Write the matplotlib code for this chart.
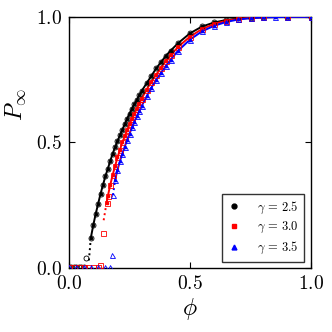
import matplotlib
matplotlib.use("Agg")
import matplotlib.pyplot as plt

plt.rcParams['mathtext.fontset'] = 'cm'
plt.rcParams['font.family'] = ['DejaVu Serif']

# gamma = 2.5 (black)
phi_a = [0.09, 0.10, 0.11, 0.12, 0.13, 0.14, 0.15, 0.16, 0.17, 0.18, 0.19, 0.20,
         0.21, 0.22, 0.23, 0.24, 0.25, 0.26, 0.27, 0.28, 0.29, 0.30, 0.32, 0.34,
         0.36, 0.38, 0.40, 0.42, 0.45, 0.50, 0.55, 0.60, 0.65, 0.70, 0.75, 0.80,
         0.90, 1.00]
P_a = [0.12, 0.17, 0.215, 0.255, 0.295, 0.33, 0.365, 0.395, 0.425, 0.455, 0.48, 0.505,
       0.528, 0.55, 0.573, 0.595, 0.615, 0.635, 0.653, 0.67, 0.688, 0.705, 0.735, 0.765,
       0.795, 0.82, 0.845, 0.866, 0.895, 0.935, 0.962, 0.978, 0.988, 0.994, 0.997, 0.999,
       1.0, 1.0]
# gamma = 3.0 (red)
phi_b = [0.155, 0.16, 0.17, 0.18, 0.19, 0.20, 0.21, 0.22, 0.23, 0.24, 0.25, 0.26,
         0.27, 0.28, 0.29, 0.30, 0.32, 0.34, 0.36, 0.38, 0.40, 0.42, 0.45, 0.50,
         0.55, 0.60, 0.65, 0.70, 0.75, 0.80, 0.90, 1.00]
P_b = [0.26, 0.285, 0.33, 0.37, 0.405, 0.44, 0.47, 0.50, 0.525, 0.55, 0.573, 0.595,
       0.615, 0.635, 0.655, 0.675, 0.71, 0.742, 0.77, 0.798, 0.825, 0.848, 0.88, 0.922,
       0.952, 0.972, 0.985, 0.992, 0.996, 0.999, 1.0, 1.0]
# gamma = 3.5 (blue)
phi_c = [0.19, 0.20, 0.21, 0.22, 0.23, 0.24, 0.25, 0.26, 0.27, 0.28, 0.29, 0.30,
         0.32, 0.34, 0.36, 0.38, 0.40, 0.42, 0.45, 0.50, 0.55, 0.60, 0.65, 0.70,
         0.75, 0.80, 0.85, 0.90, 1.00]
P_c = [0.35, 0.39, 0.425, 0.455, 0.483, 0.51, 0.535, 0.56, 0.583, 0.605, 0.625, 0.645,
       0.683, 0.718, 0.75, 0.778, 0.805, 0.83, 0.865, 0.91, 0.943, 0.965, 0.98, 0.99,
       0.995, 0.998, 0.999, 1.0, 1.0]

# dotted segments near threshold
dot_phi_a = [0.082, 0.086, 0.09]
dot_P_a = [0.03, 0.075, 0.12]
dot_phi_b = [0.143, 0.149, 0.155]
dot_P_b = [0.19, 0.225, 0.26]
dot_phi_c = [0.181, 0.186, 0.19]
dot_P_c = [0.29, 0.32, 0.35]

# open simulation markers below / at threshold
sim_phi_a = [0.0, 0.01, 0.02, 0.03, 0.04, 0.05, 0.06, 0.07]
sim_P_a = [0.002, 0.002, 0.002, 0.002, 0.003, 0.003, 0.005, 0.04]
sim_phi_b = [0.0, 0.02, 0.04, 0.06, 0.08, 0.10, 0.12, 0.128, 0.14]
sim_P_b = [0.002, 0.002, 0.002, 0.002, 0.002, 0.003, 0.004, 0.012, 0.14]
sim_phi_c = [0.0, 0.03, 0.06, 0.09, 0.12, 0.15, 0.17, 0.178, 0.18]
sim_P_c = [0.002, 0.002, 0.002, 0.002, 0.002, 0.003, 0.005, 0.05, 0.29]

labels = [r'$\gamma\,=\,2.5$', r'$\gamma\,=\,3.0$', r'$\gamma\,=\,3.5$']
colors = ['black', 'red', 'blue']
markers = ['o', 's', '^']

fig = plt.figure(figsize=(3.32, 3.32), dpi=100)
ax = fig.add_axes([0.208, 0.193, 0.729, 0.756])

series = [(phi_a, P_a, dot_phi_a, dot_P_a, sim_phi_a, sim_P_a),
          (phi_b, P_b, dot_phi_b, dot_P_b, sim_phi_b, sim_P_b),
          (phi_c, P_c, dot_phi_c, dot_P_c, sim_phi_c, sim_P_c)]

handles = []
for (px, py, dx, dy, sx, sy), c, m, lab in zip(series, colors, markers, labels):
    ax.plot(px, py, '-', color=c, lw=1.4, zorder=3)
    ax.plot(dx, dy, ':', color=c, lw=1.4, zorder=3)
    ax.plot(px, py, linestyle='none', marker=m, ms=1.6, color=c, zorder=4)
    ax.plot(px, py, linestyle='none', marker=m, ms=3.6, mfc='none', mec=c, mew=0.6, zorder=4)
    ax.plot(sx, sy, linestyle='none', marker=m, ms=3.6, mfc='none', mec=c, mew=0.6, zorder=4)
    h, = ax.plot([], [], linestyle='none', marker=m, ms=3.5, color=c, label=lab)
    handles.append(h)

ax.set_xlim(0, 1)
ax.set_ylim(0, 1)
ax.set_xticks([0, 0.5, 1.0])
ax.set_yticks([0, 0.5, 1.0])
ax.set_xticklabels(['$0.0$', '$0.5$', '$1.0$'], fontsize=14)
ax.set_yticklabels(['$0.0$', '$0.5$', '$1.0$'], fontsize=14)
ax.tick_params(direction='in', top=True, right=True, length=4, width=0.8, pad=5)
for s in ax.spines.values():
    s.set_linewidth(1.0)

ax.set_xlabel(r'$\phi$', fontsize=17, labelpad=2)
ax.set_ylabel(r'$P_\infty$', fontsize=17)
ax.yaxis.set_label_coords(-0.17, 0.65)

leg = ax.legend(handles=handles, loc='lower right', fontsize=9, frameon=True,
                fancybox=False, edgecolor='black', handlelength=1.0,
                handletextpad=1.3, borderpad=0.45, labelspacing=0.35,
                borderaxespad=0.0, bbox_to_anchor=(0.97, 0.025))
leg.get_frame().set_linewidth(1.0)

fig.savefig('out.png', dpi=100)
